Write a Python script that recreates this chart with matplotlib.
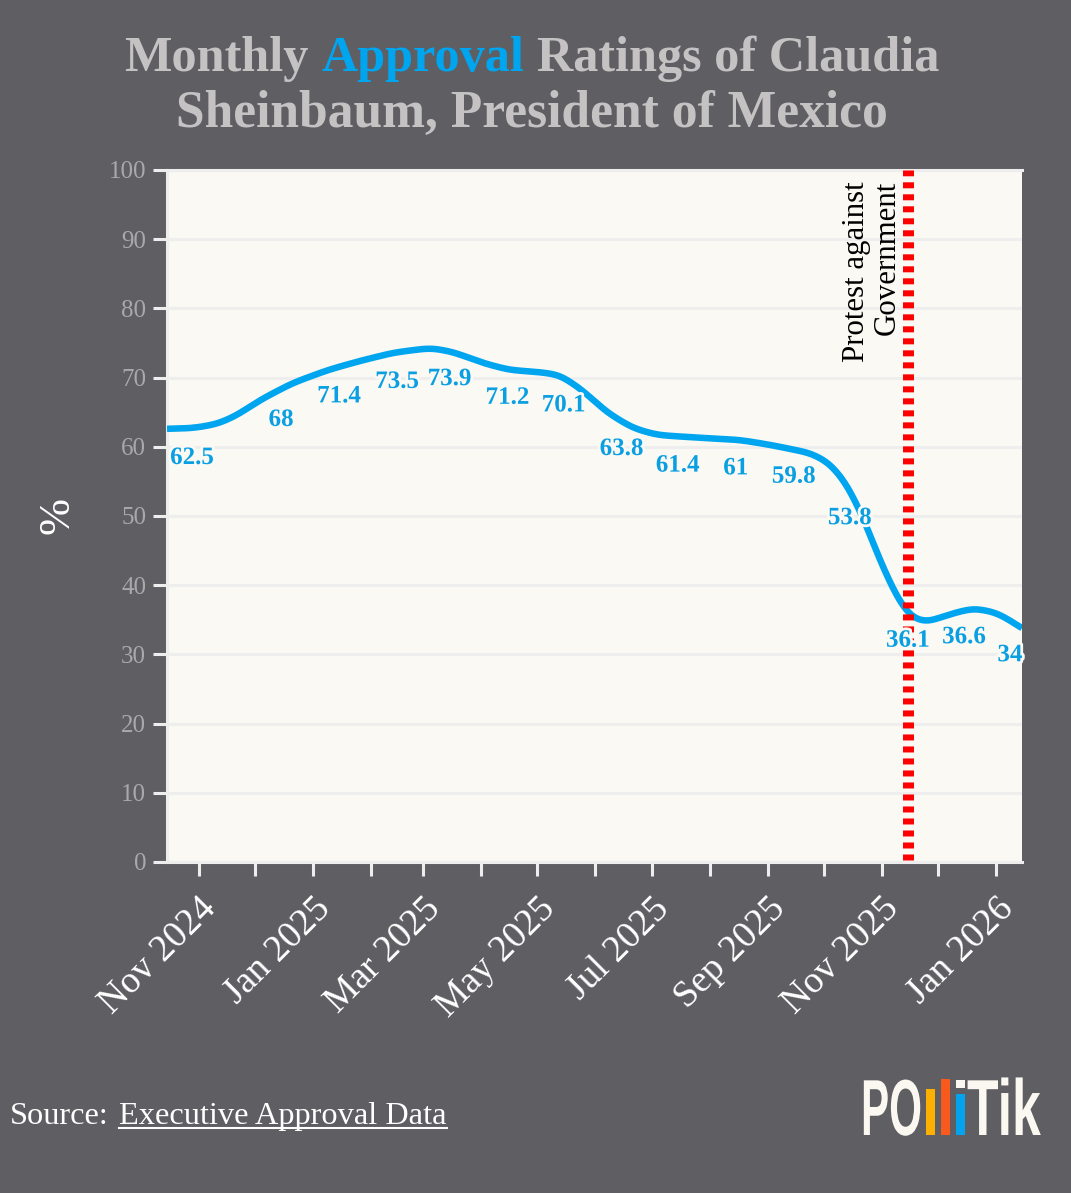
import numpy as np
import matplotlib
matplotlib.use("Agg")
import matplotlib.pyplot as plt
import matplotlib.dates as mdates
import matplotlib.patheffects as pe
from matplotlib.lines import Line2D
from matplotlib.patches import Rectangle
from matplotlib.transforms import Affine2D

# ---- data ----
label_months = ["2024-10-15", "2024-12-15", "2025-01-15", "2025-02-15", "2025-03-15",
                "2025-04-15", "2025-05-15", "2025-06-15", "2025-07-15", "2025-08-15",
                "2025-09-15", "2025-10-15", "2025-11-15", "2025-12-15", "2026-01-15"]
label_values = [62.5, 68, 71.4, 73.5, 73.9, 71.2, 70.1, 63.8, 61.4, 61, 59.8, 53.8, 36.1, 36.6, 34]
label_texts = ["62.5", "68", "71.4", "73.5", "73.9", "71.2", "70.1", "63.8", "61.4", "61",
               "59.8", "53.8", "36.1", "36.6", "34"]

# smoothed trend line (days since 15 Oct 2024, percent)
trend_days = [0, 14, 27, 37, 50, 67, 86, 103, 121, 141, 153, 169, 183, 199, 210, 222, 235,
              249, 262, 285, 306, 322, 344, 354, 363, 372, 381, 390, 397, 406, 417, 431, 444, 457]
trend_vals = [62.6, 62.7, 63.3, 64.5, 66.8, 69.2, 71.1, 72.4, 73.6, 74.3, 73.7, 72.1, 71.1,
              70.8, 70.4, 68.2, 65.0, 62.7, 61.7, 61.3, 61.0, 60.3, 59.1, 57.7, 54.8, 49.9,
              43.6, 38.3, 35.4, 34.6, 35.7, 36.7, 36.0, 33.8]

tick_dates = ["2024-11-01", "2024-12-01", "2025-01-01", "2025-02-01", "2025-03-01", "2025-04-01",
              "2025-05-01", "2025-06-01", "2025-07-01", "2025-08-01", "2025-09-01", "2025-10-01",
              "2025-11-01", "2025-12-01", "2026-01-01"]
tick_labels = ["Nov 2024", "", "Jan 2025", "", "Mar 2025", "", "May 2025", "", "Jul 2025", "",
               "Sep 2025", "", "Nov 2025", "", "Jan 2026"]
event_date = "2025-11-15"
event_text = "Protest against\nGovernment"

# ---- style ----
BG = "#5f5e63"; PANEL = "#faf9f3"; GRID = "#efeeee"; BLUE = "#00a5ef"; LBL = "#0a9fe2"
TITLE = "#c4c2c2"; YT = "#a9a8aa"; CREAM = "#faf8f0"
W, H = 1071, 1193
plt.rcParams["font.family"] = ["Liberation Serif", "DejaVu Serif"]
PX = 0.72  # points per pixel at dpi 100

def to_num(strs):
    return mdates.date2num(np.array(strs, dtype="datetime64[D]"))

def smooth(x, y, sigma=4.0):
    """Drawing path: fine resampling of the read trend with a light Gaussian, as in a loess line."""
    x = np.asarray(x, float); y = np.asarray(y, float)
    grid = np.arange(x[0], x[-1] + 0.25, 0.5)
    vals = np.interp(grid, x, y)
    half = int(4 * sigma / 0.5)
    kernel = np.exp(-0.5 * (np.arange(-half, half + 1) * 0.5 / sigma) ** 2)
    kernel /= kernel.sum()
    # odd reflection keeps the end values of the line in place
    pad_l = 2 * vals[0] - vals[half:0:-1]
    pad_r = 2 * vals[-1] - vals[-2:-half - 2:-1]
    out = np.convolve(np.r_[pad_l, vals, pad_r], kernel, mode="valid")
    return grid, out

class Stretch(pe.AbstractPathEffect):
    def __init__(self, sx, sy):
        super().__init__()
        self.sx, self.sy = sx, sy
    def draw_path(self, renderer, gc, tpath, affine, rgbFace=None):
        renderer.draw_path(gc, tpath, Affine2D().scale(self.sx, self.sy) + affine, rgbFace)

fig = plt.figure(figsize=(W / 100, H / 100), dpi=100, facecolor=BG)
ax = fig.add_axes([167 / W, (H - 862) / H, 855 / W, 692 / H], facecolor=PANEL)

start = to_num(["2024-10-15"])[0]
ax.set_xlim(start, to_num(["2026-01-15"])[0])
ax.set_ylim(0, 100)

ax.set_yticks(range(0, 101, 10))
ax.grid(axis="y", color=GRID, lw=2.2, zorder=1)
ax.set_axisbelow(True)
for name, s in ax.spines.items():
    s.set_color(GRID); s.set_linewidth(2.2)
ax.spines["right"].set_visible(False)
ax.tick_params(axis="y", colors=YT, labelsize=18, length=10, width=2.2, color=GRID, pad=5)

ax.set_xticks(to_num(tick_dates))
ax.set_xticklabels(tick_labels)
ax.tick_params(axis="x", length=10, width=2.2, color=GRID, labelcolor="white", labelsize=27, pad=11)
for t in ax.get_xticklabels():
    t.set_rotation(45); t.set_ha("right"); t.set_va("top"); t.set_rotation_mode("anchor")

ax.set_ylabel("%", color="white", fontsize=32, labelpad=0)
ax.yaxis.set_label_coords((77 - 167) / 855, (862 - 515) / 692)

tx, ty = smooth(np.array(trend_days) + start, trend_vals)
ax.plot(tx, ty, color=BLUE, lw=4.7, zorder=3, solid_capstyle="butt", clip_on=True)

ev = to_num([event_date])[0]
ax.axvline(ev, color="#ff0000", lw=7.9, ls=(0.911, (0.547, 0.547)), zorder=4, dash_capstyle="butt")
ax.annotate(event_text, xy=(ev, 100), xytext=(-6 * PX, -11 * PX), textcoords="offset points",
            rotation=90, ha="right", va="top", multialignment="right",
            fontsize=22.2, color="black", linespacing=1.1, zorder=5)

x_nudge = [25] + [0] * 13 + [-12]
for d, v, s, nx in zip(to_num(label_months), label_values, label_texts, x_nudge):
    ax.annotate(s, xy=(d, v), xytext=(nx * PX, -28 * PX), textcoords="offset points",
                ha="center", va="center", fontsize=18, fontweight="bold", color=LBL, zorder=6,
                annotation_clip=False,
                path_effects=[pe.withStroke(linewidth=4, foreground=PANEL)])

# ---- title with one coloured word ----
fig.canvas.draw()
rend = fig.canvas.get_renderer()

def centered_row(pieces, base_px, size, weight="bold"):
    arts = [fig.text(0, 1 - base_px / H, s, color=c, fontsize=size, fontweight=weight,
                     ha="left", va="baseline") for s, c in pieces]
    space = fig.text(0, 0, "n n", fontsize=size, fontweight=weight, alpha=0)
    nn = fig.text(0, 0, "nn", fontsize=size, fontweight=weight, alpha=0)
    sp = space.get_window_extent(rend).width - nn.get_window_extent(rend).width
    space.remove(); nn.remove()
    widths = [a.get_window_extent(rend).width for a in arts]
    total = sum(widths) + sp * (len(arts) - 1)
    x = 532 - total / 2
    for a, w in zip(arts, widths):
        a.set_x(x / W)
        x += w + sp

centered_row([("Monthly", TITLE), ("Approval", BLUE), ("Ratings of Claudia", TITLE)], 71, 36.2)
centered_row([("Sheinbaum, President of Mexico", TITLE)], 127, 37.1)

# ---- source ----
fig.text(10 / W, 1 - 1124 / H, "Source:", color="white", fontsize=23.3, ha="left", va="baseline")
src_b = fig.text(119 / W, 1 - 1124 / H, "Executive Approval Data", color="white", fontsize=23.3,
                 ha="left", va="baseline")
bb = src_b.get_window_extent(rend)
fig.add_artist(Line2D([bb.x0 / W, bb.x1 / W], [1 - 1128 / H] * 2, color="white", lw=1.5))

# ---- logo ----
logo_kw = dict(color=CREAM, fontsize=40, fontweight="bold", family="Liberation Sans",
               ha="left", va="baseline")
fig.text(861 / W, 1 - 1135 / H, "PO", path_effects=[Stretch(0.76, 1.43)], **logo_kw)
fig.text(967 / W, 1 - 1135 / H, "Tik", path_effects=[Stretch(0.93, 1.43)], **logo_kw)
for x0, x1, top, col in [(926, 934.5, 1089, "#fdb000"), (941, 950, 1079, "#f9591c"),
                         (956, 965, 1094, "#05a3ee"), (956, 965, 1080, CREAM)]:
    bottom = 1088 if col == CREAM else 1135
    fig.add_artist(Rectangle((x0 / W, 1 - bottom / H), (x1 - x0) / W, (bottom - top) / H,
                             transform=fig.transFigure, facecolor=col, edgecolor="none"))

fig.savefig("out.png", dpi=100, facecolor=BG)
